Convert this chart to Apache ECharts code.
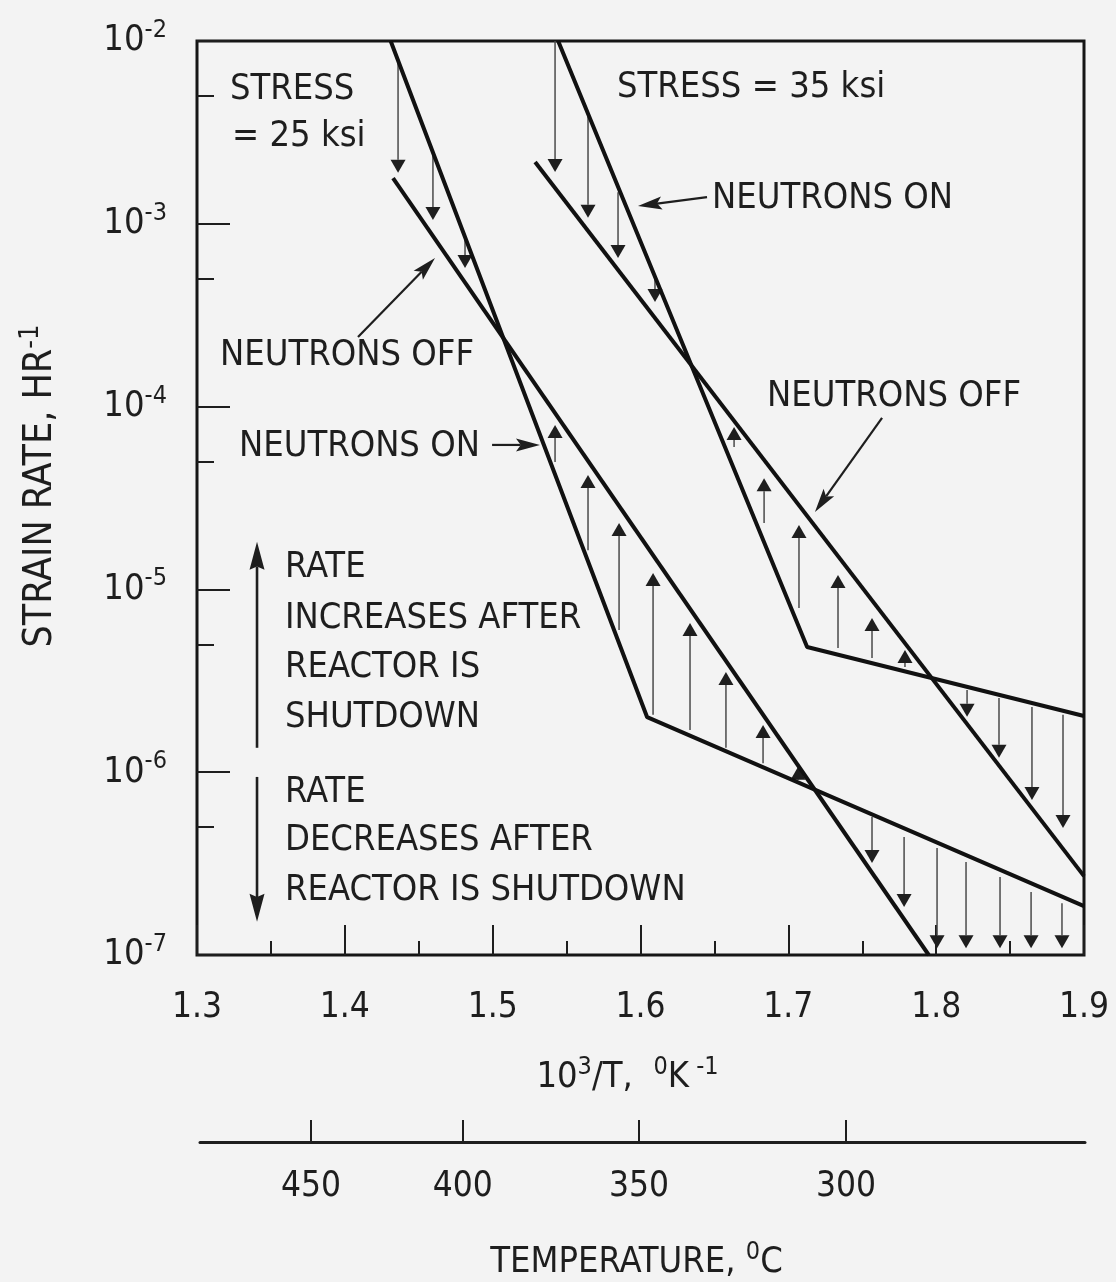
<!DOCTYPE html>
<html>
<head>
<meta charset="utf-8">
<script src="https://cdn.jsdelivr.net/npm/echarts@6/dist/echarts.min.js"></script>
<style>
  html, body { margin: 0; padding: 0; background: #f3f3f3; }
  #chart { width: 1116px; height: 1282px; }
</style>
</head>
<body>
<div id="chart"></div>
<script>
// Creep strain rate vs reciprocal temperature, neutrons on / off, at 25 and 35 ksi.

// Axis values
const yDecades = [1e-7, 1e-6, 1e-5, 1e-4, 1e-3, 1e-2];
const yMinorTicks = [5e-7, 5e-6, 5e-5, 5e-4, 5e-3];
const tempTicksC = [450, 400, 350, 300];

// Strain-rate lines: [10^3/T, rate]
const on25 = [[1.431, 1e-2], [1.6045, 2.0e-6], [1.9, 1.85e-7]];
const off25 = [[1.4326, 1.78e-3], [1.795, 1e-7]];
const on35 = [[1.5443, 1e-2], [1.7127, 4.84e-6], [1.9, 2.03e-6]];
const off35 = [[1.5287, 2.18e-3], [1.9, 2.70e-7]];

// Rate change at shutdown: [10^3/T, rate with neutrons on, rate after shutdown]
const shift25 = [
  [1.436, 7.97e-3, 1.90e-3],
  [1.4596, 2.47e-3, 1.05e-3],
  [1.4813, 8.48e-4, 5.73e-4],
  [1.5422, 4.98e-5, 7.93e-5],
  [1.5645, 1.64e-5, 4.22e-5],
  [1.5855, 6.0e-6, 2.31e-5],
  [1.6085, 2.06e-6, 1.23e-5],
  [1.6335, 1.70e-6, 6.55e-6],
  [1.6578, 1.36e-6, 3.53e-6],
  [1.6829, 1.12e-6, 1.81e-6],
  [1.7066, 9.41e-7, 1.07e-6],
  [1.7566, 5.69e-7, 3.19e-7],
  [1.7783, 4.42e-7, 1.83e-7],
  [1.8006, 3.85e-7, 1.09e-7],
  [1.8202, 3.23e-7, 1.09e-7],
  [1.8432, 2.67e-7, 1.09e-7],
  [1.8642, 2.21e-7, 1.09e-7],
  [1.8851, 1.92e-7, 1.09e-7]
];
const shift35 = [
  [1.5422, 1e-2, 1.92e-3],
  [1.5645, 3.84e-3, 1.08e-3],
  [1.5848, 1.49e-3, 6.50e-4],
  [1.6098, 5.25e-4, 3.73e-4],
  [1.6633, 6.01e-5, 7.73e-5],
  [1.6836, 2.31e-5, 4.06e-5],
  [1.7072, 7.91e-6, 2.25e-5],
  [1.7336, 4.78e-6, 1.20e-5],
  [1.7566, 4.21e-6, 6.98e-6],
  [1.7789, 3.76e-6, 4.66e-6],
  [1.8209, 2.82e-6, 2.01e-6],
  [1.8425, 2.55e-6, 1.20e-6],
  [1.8648, 2.27e-6, 7.05e-7],
  [1.8858, 2.06e-6, 4.95e-7]
];

// Annotations (anchored at the left-middle of each text line)
const notes = [
  { text: 'STRESS', x: 1.3223, y: 5.40e-3 },
  { text: '= 25 ksi', x: 1.3237, y: 2.99e-3 },
  { text: 'STRESS = 35 ksi', x: 1.5841, y: 5.53e-3 },
  { text: 'NEUTRONS ON', x: 1.6484, y: 1.38e-3 },
  { text: 'NEUTRONS OFF', x: 1.3156, y: 1.91e-4 },
  { text: 'NEUTRONS ON', x: 1.3284, y: 6.01e-5 },
  { text: 'NEUTRONS OFF', x: 1.6856, y: 1.13e-4 },
  { text: 'RATE', x: 1.3595, y: 1.31e-5 },
  { text: 'INCREASES AFTER', x: 1.3595, y: 6.88e-6 },
  { text: 'REACTOR IS', x: 1.3595, y: 3.72e-6 },
  { text: 'SHUTDOWN', x: 1.3595, y: 1.98e-6 },
  { text: 'RATE', x: 1.3595, y: 7.69e-7 },
  { text: 'DECREASES AFTER', x: 1.3595, y: 4.21e-7 },
  { text: 'REACTOR IS SHUTDOWN', x: 1.3595, y: 2.24e-7 }
];
// Leader arrows: [x from, rate from, x to, rate to]
const pointers = [
  [1.645, 1.40e-3, 1.5983, 1.25e-3],
  [1.4089, 2.40e-4, 1.461, 6.50e-4],
  [1.4996, 6.17e-5, 1.532, 6.17e-5],
  [1.7634, 8.67e-5, 1.718, 2.65e-5]
];
// Key arrows beside the RATE notes
const keyArrows = [
  [1.3406, 1.36e-6, 1.3406, 1.82e-5],
  [1.3406, 9.42e-7, 1.3406, 1.52e-7]
];

const FONT = "'Liberation Sans Narrow','DejaVu Sans Condensed',sans-serif";
const INK = '#1e1e1e';

function arrowHead(p1, p2, len, wid, notch) {
  const dx = p2[0] - p1[0], dy = p2[1] - p1[1];
  const d = Math.hypot(dx, dy) || 1;
  const ux = dx / d, uy = dy / d, nx = -uy, ny = ux;
  const bx = p2[0] - ux * len, by = p2[1] - uy * len;
  const mx = p2[0] - ux * len * (1 - notch), my = p2[1] - uy * len * (1 - notch);
  return {
    base: [mx, my],
    points: [[p2[0], p2[1]], [bx + nx * wid / 2, by + ny * wid / 2], [mx, my], [bx - nx * wid / 2, by - ny * wid / 2]]
  };
}

function arrowItem(p1, p2, len, wid, notch, shaftW, shaftColor) {
  const h = arrowHead(p1, p2, len, wid, notch);
  return {
    type: 'group',
    children: [
      { type: 'line', shape: { x1: p1[0], y1: p1[1], x2: h.base[0], y2: h.base[1] },
        style: { stroke: shaftColor, lineWidth: shaftW } },
      { type: 'polygon', shape: { points: h.points }, style: { fill: INK } }
    ]
  };
}

function renderShift(params, api) {
  const x = api.value(0);
  const p1 = api.coord([x, api.value(1)]);
  const p2 = api.coord([x, api.value(2)]);
  return arrowItem(p1, p2, 13, 15, 0, 1.5, '#4a4a4a');
}
function renderPointer(params, api) {
  const p1 = api.coord([api.value(0), api.value(1)]);
  const p2 = api.coord([api.value(2), api.value(3)]);
  return arrowItem(p1, p2, 24, 13, 0.2, 2.2, INK);
}
function renderKey(params, api) {
  const p1 = api.coord([api.value(0), api.value(1)]);
  const p2 = api.coord([api.value(2), api.value(3)]);
  return arrowItem(p1, p2, 28, 15, 0.12, 2.6, INK);
}
function renderNote(params, api) {
  const n = notes[params.dataIndex];
  const p = api.coord([api.value(0), api.value(1)]);
  return {
    type: 'text', x: p[0], y: p[1],
    style: { text: n.text, fill: INK, font: '36px ' + FONT, align: 'left', verticalAlign: 'middle' }
  };
}

const lineStyle = { color: '#111', width: 4 };
const supRich = {
  b: { fontSize: 36, fontFamily: FONT, color: INK, lineHeight: 46 },
  s: { fontSize: 25, fontFamily: FONT, color: INK, lineHeight: 25, verticalAlign: 'top' }
};
const titleRich = {
  b: { fontSize: 39, fontFamily: FONT, color: INK, lineHeight: 48 },
  s: { fontSize: 27, fontFamily: FONT, color: INK, lineHeight: 27, verticalAlign: 'top' }
};
const k2t = v => 1000 / (v + 273.15);

const chart = echarts.init(document.getElementById('chart'));
chart.setOption({
  animation: false,
  backgroundColor: '#f3f3f3',
  grid: [
    { left: 197, right: 32, top: 41, bottom: 327, show: true, borderColor: '#151515', borderWidth: 3 },
    { left: 200, right: 31, top: 1141, height: 1 }
  ],
  xAxis: [
    {
      type: 'value', gridIndex: 0, min: 1.3, max: 1.9, interval: 0.1,
      axisLine: { show: false },
      axisTick: { inside: true, length: 30, lineStyle: { color: INK, width: 2 } },
      minorTick: { show: true, splitNumber: 2, length: 14, lineStyle: { color: INK, width: 2 } },
      splitLine: { show: false },
      axisLabel: { margin: 35, fontSize: 35, fontFamily: FONT, color: INK, formatter: v => v.toFixed(1) },
      name: '{b|10}{s|3}{b|/T,  }{s|0}{b|K}{s| -1}',
      nameLocation: 'middle', nameGap: 100,
      nameTextStyle: { rich: supRich, padding: [0, 26, 0, 0] }
    },
    {
      type: 'value', gridIndex: 1, min: 1.3077, max: 1.9065,
      axisLine: { show: true, lineStyle: { color: INK, width: 3 } },
      axisTick: { inside: true, length: 22, customValues: tempTicksC.map(k2t), lineStyle: { color: INK, width: 2 } },
      splitLine: { show: false },
      axisLabel: {
        customValues: tempTicksC.map(k2t), margin: 27, fontSize: 35, fontFamily: FONT, color: INK,
        formatter: v => String(Math.round(1000 / v - 273.15))
      },
      name: '{b|TEMPERATURE, }{s|0}{b|C}',
      nameLocation: 'middle', nameGap: 98,
      nameTextStyle: { rich: supRich, padding: [0, 12, 0, 0] }
    }
  ],
  yAxis: [
    {
      type: 'log', logBase: 10, min: 1e-7, max: 1e-2, gridIndex: 0,
      axisLine: { show: false },
      axisTick: { inside: true, length: 33, customValues: yDecades, lineStyle: { color: INK, width: 2 } },
      splitLine: { show: false },
      axisLabel: {
        customValues: yDecades, margin: 30,
        formatter: v => '{b|10}{s|' + Math.round(Math.log10(v)) + '}',
        rich: supRich
      },
      name: '{b|STRAIN RATE, HR}{s|-1}',
      nameLocation: 'middle', nameGap: 132, nameRotate: 90,
      nameTextStyle: { rich: titleRich, padding: [0, 0, 0, 24] }
    },
    {
      type: 'log', logBase: 10, min: 1e-7, max: 1e-2, gridIndex: 0, position: 'left',
      axisLine: { show: false },
      axisTick: { inside: true, length: 17, customValues: yMinorTicks, lineStyle: { color: INK, width: 2 } },
      splitLine: { show: false },
      axisLabel: { show: false }
    },
    { type: 'value', gridIndex: 1, show: false, min: 0, max: 1 }
  ],
  series: [
    { type: 'line', data: on25, showSymbol: false, lineStyle, z: 4 },
    { type: 'line', data: off25, showSymbol: false, lineStyle, z: 4 },
    { type: 'line', data: on35, showSymbol: false, lineStyle, z: 4 },
    { type: 'line', data: off35, showSymbol: false, lineStyle, z: 4 },
    { type: 'custom', data: shift25, renderItem: renderShift, encode: { x: 0, y: [1, 2] }, z: 3 },
    { type: 'custom', data: shift35, renderItem: renderShift, encode: { x: 0, y: [1, 2] }, z: 3 },
    { type: 'custom', data: pointers, renderItem: renderPointer, encode: { x: [0, 2], y: [1, 3] }, z: 5 },
    { type: 'custom', data: keyArrows, renderItem: renderKey, encode: { x: [0, 2], y: [1, 3] }, z: 5 },
    { type: 'custom', data: notes.map(n => [n.x, n.y]), renderItem: renderNote, encode: { x: 0, y: 1 }, z: 6, clip: false }
  ]
});
</script>
</body>
</html>
